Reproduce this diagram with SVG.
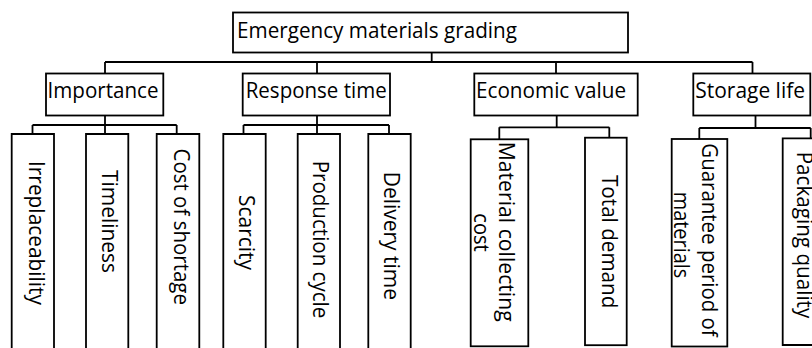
<svg xmlns="http://www.w3.org/2000/svg" width="812" height="348" viewBox="0 0 812 348">
<style>
.b{fill:#fff;stroke:#000;stroke-width:1.8}
.o{fill:none;stroke:#000;stroke-width:1.8}
.c{fill:none;stroke:#000;stroke-width:1.8}
text{font-family:"Open Sans","Noto Sans",sans-serif;font-size:22px;fill:#000}
</style>
<rect width="812" height="348" fill="#fff"/>
<g id="connectors">
<path class="c" d="M431.7,52.5V62M105,62H752.5M105,62V73.5M317,62V73.5M556,62V73.5M752.5,62V73.5"/>
<path class="c" d="M105,115.5V125M32.5,125H176.7M32.5,125V134M105,125V134M176.7,125V134"/>
<path class="c" d="M317,115.5V125M243.5,125H389M243.5,125V134M317,125V134M389,125V134"/>
<path class="c" d="M556.7,115.5V127.3M499.3,127.3H609.3M499.3,127.3V139.3M609.3,127.3V137.7"/>
<path class="c" d="M755.5,115.5V128M699.3,128H810.7M699.3,128V139M810.7,128V138.3"/>
</g>
<g id="root"><rect class="b" x="233" y="12.5" width="395" height="40"/><text x="237" y="37.5" textLength="280" lengthAdjust="spacingAndGlyphs">Emergency materials grading</text></g>
<g id="importance"><rect class="b" x="46" y="73.5" width="117.3" height="42"/><text x="47.5" y="98" textLength="111" lengthAdjust="spacingAndGlyphs">Importance</text></g>
<g id="response"><rect class="b" x="242.7" y="73.5" width="147.3" height="42"/><text x="245.7" y="98" textLength="141" lengthAdjust="spacingAndGlyphs">Response time</text></g>
<g id="economic"><rect class="b" x="474.3" y="73.5" width="163.4" height="42"/><text x="476" y="98" textLength="150" lengthAdjust="spacingAndGlyphs">Economic value</text></g>
<g id="storage"><rect class="b" x="693.3" y="73.5" width="117" height="42"/><text x="695.3" y="98" textLength="109.7" lengthAdjust="spacingAndGlyphs">Storage life</text></g>
<g id="irreplaceability"><path class="o" d="M11.7,349V134H54V349"/><text transform="translate(29,161) rotate(90)" textLength="144" lengthAdjust="spacingAndGlyphs">Irreplaceability</text></g>
<g id="timeliness"><path class="o" d="M86,349V134H128.3V349"/><text transform="translate(102,170) rotate(90)" textLength="103" lengthAdjust="spacingAndGlyphs">Timeliness</text></g>
<g id="cost-shortage"><path class="o" d="M156.7,349V134H199.3V349"/><text transform="translate(173.5,148.5) rotate(90)" textLength="156.5" lengthAdjust="spacingAndGlyphs">Cost of shortage</text></g>
<g id="scarcity"><path class="o" d="M223.3,349V134H265.7V349"/><text transform="translate(239,195) rotate(90)" textLength="75" lengthAdjust="spacingAndGlyphs">Scarcity</text></g>
<g id="production"><path class="o" d="M297.7,349V134H340V349"/><text transform="translate(313,160.7) rotate(90)" textLength="157.6" lengthAdjust="spacingAndGlyphs">Production cycle</text></g>
<g id="delivery"><path class="o" d="M368.3,349V134H410.7V349"/><text transform="translate(384,171.7) rotate(90)" textLength="128.3" lengthAdjust="spacingAndGlyphs">Delivery time</text></g>
<g id="material-cost"><rect class="b" x="470.7" y="139.3" width="57.6" height="207"/><text transform="translate(498.5,141.7) rotate(90)" textLength="180" lengthAdjust="spacingAndGlyphs">Material collecting</text><text transform="translate(474,213.3) rotate(90)" textLength="38.4" lengthAdjust="spacingAndGlyphs">cost</text></g>
<g id="total-demand"><rect class="b" x="585" y="137.7" width="41.7" height="207.5"/><text transform="translate(602,175) rotate(90)" textLength="133.3" lengthAdjust="spacingAndGlyphs">Total demand</text></g>
<g id="guarantee"><rect class="b" x="671.7" y="139" width="55.6" height="207.5"/><text transform="translate(701.5,143.3) rotate(90)" textLength="193.4" lengthAdjust="spacingAndGlyphs">Guarantee period of</text><text transform="translate(673.5,191.7) rotate(90)" textLength="86.6" lengthAdjust="spacingAndGlyphs">materials</text></g>
<g id="packaging"><path class="b" d="M813,138.3H782.7V345H813"/><text transform="translate(797,151.7) rotate(90)" textLength="166.6" lengthAdjust="spacingAndGlyphs">Packaging quality</text></g>
</svg>
